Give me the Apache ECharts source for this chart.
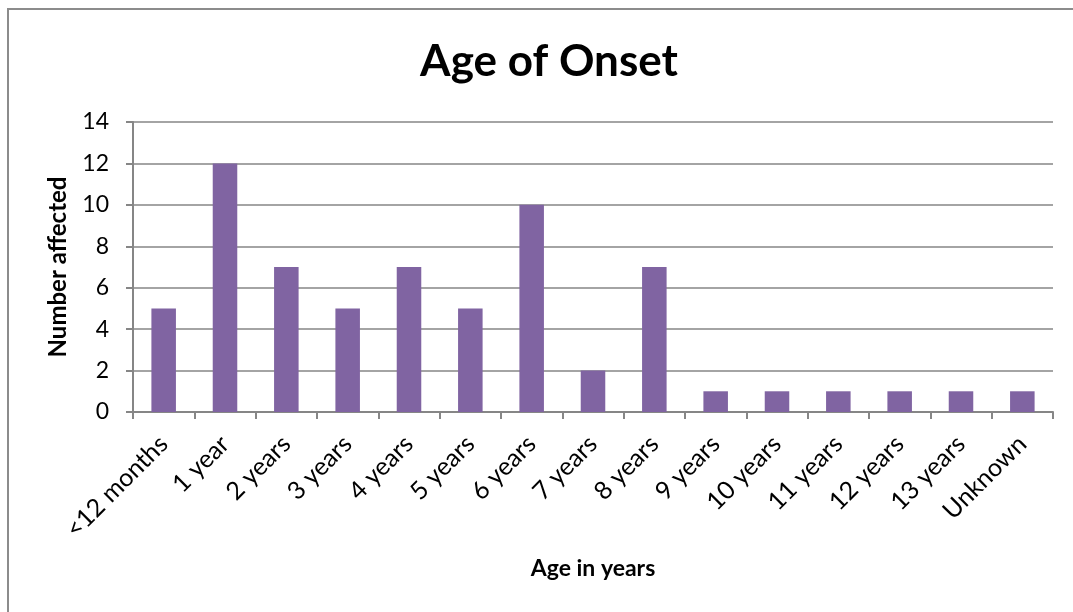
<!DOCTYPE html>
<html>
<head>
<meta charset="utf-8">
<script src="https://cdn.jsdelivr.net/npm/echarts@6/dist/echarts.min.js"></script>
<style>html,body{margin:0;padding:0;background:#fff}#c{width:1073px;height:612px}</style>
</head>
<body>
<div id="c"></div>
<script>
const categories = ['<12 months','1 year','2 years','3 years','4 years','5 years','6 years','7 years','8 years','9 years','10 years','11 years','12 years','13 years','Unknown'];
const values = [5,12,7,5,7,5,10,2,7,1,1,1,1,1,1];
const yTicks = {min:0, max:14, interval:2};
const FONT = 'Lato';
const chart = echarts.init(document.getElementById('c'), null, {renderer:'canvas'});
chart.setOption({
  animation:false,
  backgroundColor:'#fff',
  graphic:[{type:'rect', shape:{x:8,y:9,width:1100,height:700}, style:{fill:'none', stroke:'#8c8c8c', lineWidth:2}, z:-1}],
  title:{text:'Age of Onset', top:35, left:544, textAlign:'center', textStyle:{fontFamily:FONT, fontSize:44, fontWeight:'bold', color:'#000'}},
  grid:{left:133, right:20, top:122, bottom:200},
  xAxis:{type:'category', data:categories,
    name:'Age in years', nameLocation:'middle', nameGap:145,
    nameTextStyle:{fontFamily:FONT, fontSize:23, fontWeight:'bold', color:'#000'},
    axisLine:{lineStyle:{color:'#868686', width:2}},
    axisTick:{show:true, length:7, alignWithLabel:false, lineStyle:{color:'#868686', width:2}},
    axisLabel:{rotate:45, fontFamily:FONT, fontSize:25, color:'#000', margin:28, interval:0}
  },
  yAxis:{type:'value', min:yTicks.min, max:yTicks.max, interval:yTicks.interval,
    name:'Number affected', nameLocation:'middle', nameGap:63,
    nameTextStyle:{fontFamily:FONT, fontSize:24, fontWeight:'bold', color:'#000'},
    axisLine:{show:true, lineStyle:{color:'#868686', width:2}},
    axisTick:{show:true, length:7, lineStyle:{color:'#868686', width:2}},
    splitLine:{lineStyle:{color:'#868686', width:1.5}},
    axisLabel:{fontFamily:FONT, fontSize:23, color:'#000', margin:24}
  },
  series:[{type:'bar', data:values, barWidth:'40%', itemStyle:{color:'#8064A2'}}]
});
</script>
</body>
</html>
